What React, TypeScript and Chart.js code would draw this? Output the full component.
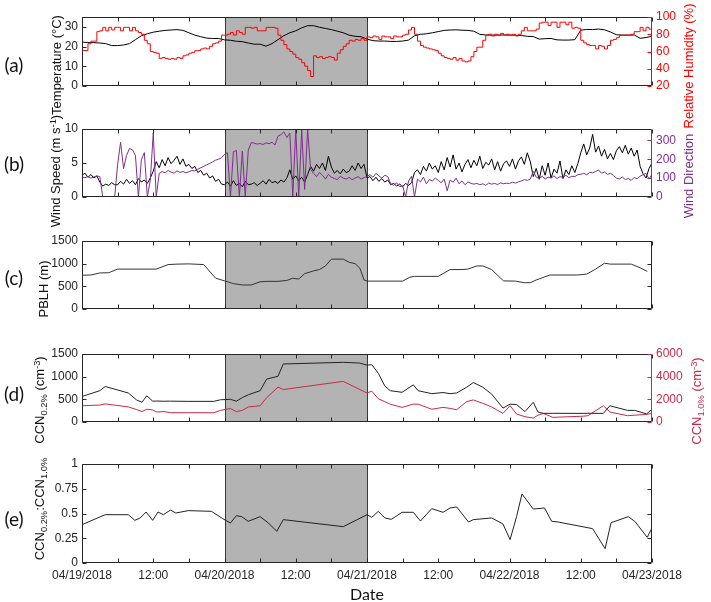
import React, { useEffect, useRef } from 'react';
import { Chart, registerables } from 'chart.js';
Chart.register(...registerables);

// ---------------- data ----------------
const xTickHours = [0, 12, 24, 36, 48, 60, 72, 84, 96];
const xTickLabels = ['04/19/2018', '12:00', '04/20/2018', '12:00', '04/21/2018', '12:00', '04/22/2018', '12:00', '04/23/2018'];
const xMinorTickHours = [0, 6, 12, 18, 24, 30, 36, 42, 48, 54, 60, 66, 72, 78, 84, 90, 96];
const shadeStartHour = 24;
const shadeEndHour = 48;

// hourly (h = 0..96)
const temperature = [
  22.3, 22, 22, 21.8, 21.5, 20.5, 20.5, 20.8, 21.5, 23.5,
  25.5, 26.5, 27.3, 27.8, 28.2, 28.4, 28.6, 28.2, 27, 25.8,
  25, 24.3, 24.1, 24.1, 23.4, 23.2, 22.7, 22.5, 21.8, 21.2,
  21.2, 20.2, 21.5, 23.5, 25.5, 27, 28, 29.5, 30.6, 30.6,
  29.8, 29.2, 28.6, 27.8, 27, 25.8, 25.2, 25, 23.8, 23,
  22.8, 22.8, 22.6, 22.6, 22.8, 23.3, 25.5, 26.2, 26.5, 27,
  27.6, 28.2, 28.4, 28.5, 28.3, 28.2, 27.8, 26.2, 25.9, 25.8,
  25.8, 25.9, 25.8, 25.8, 25.6, 25.2, 25.1, 23.8, 24, 24.1,
  23.4, 23.3, 23.3, 23.5, 28.3, 28.7, 28.6, 28.9, 28.5, 27.4,
  26, 25.8, 25.8, 25.9, 24.2, 24.6, 25.2,
];

// half-hourly (h = 0, 0.5, ..., 96)
const relHumidity = [
  61, 61, 69, 72, 72, 83, 84, 88, 84, 88, 85, 88,
  88, 84, 88, 88, 84, 88, 84, 82, 80, 73, 69, 60,
  59, 58, 52, 53, 52, 51, 52, 51, 53, 52, 55, 56,
  58, 59, 61, 61, 63, 64, 63, 66, 69, 70, 72, 79,
  79, 80, 82, 79, 84, 82, 80, 88, 88, 87, 88, 84,
  84, 84, 88, 88, 88, 87, 79, 73, 68, 63, 60, 57,
  53, 51, 47, 43, 38, 31, 55, 53, 54, 52, 53, 54,
  53, 50, 58, 62, 66, 69, 73, 72, 74, 73, 75, 73,
  77, 76, 78, 77, 74, 78, 77, 77, 75, 78, 77, 77,
  79, 80, 85, 88, 80, 72, 67, 65, 64, 63, 62, 61,
  58, 55, 53, 52, 51, 53, 50, 52, 49, 48, 49, 54,
  60, 65, 65, 73, 79, 80, 78, 80, 79, 81, 79, 80,
  79, 80, 78, 80, 84, 88, 84, 84, 84, 86, 93, 94,
  94, 90, 94, 94, 88, 94, 94, 91, 94, 87, 88, 87,
  73, 70, 68, 67, 67, 63, 67, 66, 63, 67, 73, 74,
  76, 79, 79, 79, 79, 80, 83, 83, 88, 84, 88, 86,
  88,
];
const windSpeed = [
  3.2, 3.5, 2.9, 3.3, 2.8, 3.1, 2.2, 1.6, 1.9, 1.7, 2.1, 1.8,
  1.8, 2.3, 1.9, 2.6, 2.0, 2.4, 1.8, 2.7, 2.2, 2.5, 2.0, 2.8,
  3.8, 5.2, 4.3, 5.5, 4.6, 5.8, 4.9, 5.4, 6.0, 4.8, 5.6, 4.5,
  4.8, 4.2, 4.5, 3.6, 3.9, 3.2, 3.5, 2.8, 3.1, 2.3, 2.6, 1.9,
  1.8, 2.2, 1.6, 2.4, 1.7, 2.0, 1.5, 2.3, 1.8, 1.9, 2.1, 1.7,
  2.0, 2.4, 1.9, 2.6, 2.1, 2.3, 2.0, 2.5, 2.2, 2.8, 4.0, 2.6,
  3.1, 2.4, 2.9, 2.2, 3.3, 4.5, 3.8, 4.8, 4.2, 5.0, 3.9, 6.0,
  4.4, 3.5, 3.9, 3.4, 4.1, 3.6, 3.8, 4.6, 3.9, 5.0, 4.2, 4.8,
  2.8, 3.0, 2.4, 2.9, 2.3, 2.7, 2.2, 2.5, 1.8, 2.0, 1.6, 1.9,
  1.5, 2.0, 1.7, 2.1, 3.6, 4.0, 3.3, 4.5, 3.8, 5.0, 4.1, 4.6,
  3.6, 5.2, 4.0, 5.8, 4.4, 6.2, 4.1, 5.0, 3.7, 4.8, 5.5, 4.3,
  5.4, 4.6, 6.0, 4.2, 5.1, 4.7, 5.6, 4.0, 5.2, 3.8, 4.9, 5.3,
  4.5, 5.6, 4.1, 5.3, 5.9, 4.8, 6.5, 5.2, 3.0, 4.2, 2.6, 4.6,
  3.2, 5.0, 2.8, 4.1, 3.5, 5.3, 2.7, 4.0, 3.3, 4.6, 3.6, 4.9,
  6.5, 7.8, 6.2, 7.2, 9.2, 6.6, 7.5, 6.0, 7.0, 5.6, 6.4, 5.5,
  6.8, 7.4, 6.5, 7.6, 6.3, 7.2, 6.0, 6.9, 4.5, 3.4, 2.8, 4.2,
  5.0,
];
const windDirection = [
  105, 102, 108, 100, 106, 112, 108, 0, 2, 0, 3, 0,
  172, 290, 150, 220, 257, 250, 220, 0, 198, 235, 0, 88,
  338, 0, 125, 135, 128, 140, 132, 126, 138, 130, 135, 128,
  134, 140, 138, 147, 155, 162, 170, 178, 186, 195, 200, 208,
  225, 235, 0, 240, 246, 0, 243, 0, 248, 288, 285, 280,
  283, 278, 287, 282, 290, 275, 322, 330, 345, 315, 338, 0,
  360, 0, 355, 40, 360, 147, 125, 108, 130, 115, 95, 120,
  105, 98, 92, 110, 100, 95, 104, 92, 100, 108, 95, 102,
  110, 118, 105, 125, 112, 100, 115, 108, 70, 62, 75, 55,
  60, 0, 85, 110, 0, 95, 80, 105, 70, 92, 85, 100,
  88, 75, 95, 33, 90, 78, 100, 70, 85, 65, 80, 72,
  68, 72, 65, 70, 62, 74, 68, 72, 66, 75, 70, 73,
  72, 78, 74, 80, 85, 92, 88, 95, 136, 105, 98, 110,
  95, 105, 100, 112, 98, 108, 104, 115, 102, 110, 108, 118,
  120, 125, 118, 130, 128, 135, 143, 126, 132, 120, 125, 115,
  100, 95, 106, 92, 98, 88, 104, 96, 110, 118, 125, 95,
  120,
];

const pblhHours = [0, 1.5, 3, 4.5, 6, 12.5, 14.5, 16, 18, 20.5, 22.5, 24, 25.5, 27, 28.5, 30, 31, 33, 34.5, 35.5, 36.5, 37.5, 39, 40, 41, 42, 44, 45, 46, 46.8, 47.5, 48, 54, 55.2, 56, 60, 62, 64, 65, 66.5, 67.5, 69, 70.5, 71, 73, 74.5, 75.5, 76.5, 78.8, 83.5, 85, 86.5, 88, 89, 92.5, 94, 95.2];
const pblh = [745, 750, 795, 800, 880, 880, 980, 990, 995, 980, 680, 620, 560, 530, 530, 600, 610, 610, 630, 680, 660, 780, 840, 870, 950, 1100, 1100, 1030, 1000, 900, 640, 615, 615, 700, 720, 720, 870, 870, 880, 950, 950, 870, 680, 620, 615, 580, 580, 640, 750, 750, 770, 880, 1010, 990, 990, 910, 830];

const ccnHours = [0, 3, 3.9, 7.8, 9.2, 10.1, 10.9, 11.9, 12.6, 13.8, 14.9, 18, 22.2, 23.3, 25, 26, 27, 28, 30, 31.1, 33, 33.9, 44, 46.8, 48, 48.8, 49.9, 51, 51.9, 53.9, 55.8, 56.6, 58.9, 60.8, 62, 63.1, 64.8, 65.9, 67.5, 69, 70.9, 72.1, 73.2, 74.6, 76, 76.8, 77.7, 79.3, 84.4, 85.2, 87.8, 88.9, 91.9, 93.1, 95.1, 96];
const ccn02 = [563, 691, 783, 640, 486, 435, 578, 460, 462, 458, 460, 455, 455, 490, 500, 460, 538, 600, 691, 947, 1008, 1280, 1316, 1300, 1254, 1265, 1075, 794, 691, 655, 819, 691, 625, 650, 625, 640, 768, 870, 768, 614, 307, 394, 384, 230, 435, 220, 190, 192, 190, 192, 190, 358, 256, 256, 179, 282];
const ccn10 = [1434, 1495, 1597, 1331, 1100, 922, 1126, 1065, 880, 922, 819, 819, 819, 1024, 1188, 922, 1024, 1331, 1434, 2150, 3072, 2867, 3584, 2867, 2560, 2724, 2048, 1800, 1577, 1290, 1577, 1577, 1126, 1290, 1200, 1085, 1800, 1946, 1650, 1330, 758, 1434, 700, 470, 348, 600, 758, 410, 512, 553, 1434, 880, 553, 600, 676, 758];

const ratioHours = [0, 3.9, 7.8, 8.9, 9.8, 10.8, 11.9, 12.8, 13.7, 14.9, 15.8, 17.9, 21.8, 23.7, 25, 26, 26.9, 28, 30, 31.4, 32.8, 33.9, 44, 48, 48.8, 49.9, 51, 52.1, 53.9, 55.8, 57, 58.9, 60.8, 62, 63.1, 65.1, 65.9, 69, 70.9, 72.1, 73.2, 74.1, 76, 77.9, 79.1, 80.2, 86, 88.1, 89.1, 92, 93.1, 95.2, 96];
const ccnRatio = [0.387, 0.488, 0.488, 0.431, 0.455, 0.515, 0.431, 0.515, 0.488, 0.535, 0.505, 0.529, 0.522, 0.448, 0.404, 0.478, 0.468, 0.421, 0.468, 0.404, 0.32, 0.438, 0.367, 0.488, 0.461, 0.522, 0.455, 0.441, 0.512, 0.512, 0.424, 0.549, 0.512, 0.556, 0.566, 0.414, 0.438, 0.455, 0.394, 0.236, 0.471, 0.697, 0.545, 0.556, 0.421, 0.414, 0.347, 0.145, 0.407, 0.468, 0.421, 0.259, 0.354];

const tempTicks = [0, 10, 20, 30];
const rhTicks = [20, 40, 60, 80, 100];
const wsTicks = [0, 5, 10];
const wdTicks = [0, 100, 200, 300];
const pblhTicks = [0, 500, 1000, 1500];
const ccn02Ticks = [0, 500, 1000, 1500];
const ccn10Ticks = [0, 2000, 4000, 6000];
const ratioTicks = [0, 0.25, 0.5, 0.75, 1];
const ratioTickLabels = ['0', '0.25', '0.5', '0.75', '1'];

// ---------------- styles ----------------
const W = 711;
const H = 602;
const PLOT_LEFT = 82;
const PLOT_RIGHT = 652;
const PAD = 12;
const XAXIS_H = 30;
const TICK = 4;
const AXIS = '#262626';
const SHADE = '#b3b3b3';
const RED = '#ff0000';
const PURPLE = '#7e2f8e';
const CRIMSON = '#c8294b';
const FONT = '"Liberation Sans", Arial, Helvetica, sans-serif';
const LABEL_FONT = 'Lato, "Open Sans", sans-serif';

const pts = (xs: number[], ys: number[]) => ys.map((y, i) => ({ x: xs[i], y }));
const grid = (step: number, ys: number[]) => ys.map((y, i) => ({ x: i * step, y }));

const framePlugin = {
  id: 'frame',
  beforeDatasetsDraw(chart: any) {
    const { ctx, chartArea: a, scales } = chart;
    const x0 = Math.round(scales.x.getPixelForValue(shadeStartHour)) + 0.5;
    const x1 = Math.round(scales.x.getPixelForValue(shadeEndHour)) + 0.5;
    ctx.save();
    ctx.fillStyle = SHADE;
    ctx.fillRect(x0, a.top, x1 - x0, a.bottom - a.top);
    ctx.strokeStyle = '#3a3a3a';
    ctx.lineWidth = 1;
    ctx.beginPath();
    ctx.moveTo(x0, a.top); ctx.lineTo(x0, a.bottom);
    ctx.moveTo(x1, a.top); ctx.lineTo(x1, a.bottom);
    ctx.stroke();
    ctx.restore();
  },
  afterDraw(chart: any, _args: any, opts: any) {
    const { ctx, chartArea: a, scales } = chart;
    const L = Math.round(a.left) + 0.5;
    const R = Math.round(a.right) - 0.5;
    const T = Math.round(a.top) + 0.5;
    const B = Math.round(a.bottom) - 0.5;
    ctx.save();
    ctx.lineWidth = 1;
    ctx.strokeStyle = AXIS;
    ctx.beginPath();
    ctx.moveTo(L, T); ctx.lineTo(R, T);
    ctx.moveTo(L, B); ctx.lineTo(R, B);
    ctx.moveTo(L, T); ctx.lineTo(L, B);
    for (const h of xMinorTickHours) {
      const px = Math.round(scales.x.getPixelForValue(h)) + 0.5;
      ctx.moveTo(px, B); ctx.lineTo(px, B - TICK);
      ctx.moveTo(px, T); ctx.lineTo(px, T + TICK);
    }
    for (const t of scales.y.ticks) {
      const py = Math.round(scales.y.getPixelForValue(t.value)) + 0.5;
      ctx.moveTo(L, py); ctx.lineTo(L + TICK, py);
    }
    ctx.stroke();
    ctx.strokeStyle = (opts && opts.rightColor) || AXIS;
    ctx.beginPath();
    ctx.moveTo(R, T); ctx.lineTo(R, B);
    const rs = opts && opts.mirror ? scales.y : scales.y1;
    for (const t of rs.ticks) {
      const py = Math.round(rs.getPixelForValue(t.value)) + 0.5;
      ctx.moveTo(R, py); ctx.lineTo(R - TICK, py);
    }
    ctx.stroke();
    ctx.restore();
  },
};

function yScale(position: string, min: number, max: number, ticks: number[], color: string, width: number, labels?: string[], showLabels = true) {
  return {
    type: 'linear',
    position,
    min,
    max,
    grid: { display: false, drawTicks: false },
    border: { display: false },
    afterBuildTicks: (s: any) => { s.ticks = ticks.map((v) => ({ value: v })); },
    afterFit: (s: any) => { s.width = width; },
    ticks: {
      display: showLabels,
      color,
      font: { family: FONT, size: 12 },
      padding: 4,
      autoSkip: false,
      callback: (v: any, i: number) => (labels ? labels[i] : String(v)),
    },
  };
}

type Spec = {
  top: number;
  bottom: number;
  showX: boolean;
  datasets: any[];
  left: { min: number; max: number; ticks: number[]; labels?: string[] };
  right?: { min: number; max: number; ticks: number[]; color: string };
};

function buildConfig(spec: Spec): any {
  const scales: any = {
    x: {
      type: 'linear',
      min: 0,
      max: 96,
      display: spec.showX,
      grid: { display: false, drawTicks: false },
      border: { display: false },
      afterBuildTicks: (s: any) => { s.ticks = xTickHours.map((v) => ({ value: v })); },
      afterFit: (s: any) => { s.height = XAXIS_H; },
      ticks: {
        autoSkip: false,
        maxRotation: 0,
        minRotation: 0,
        color: AXIS,
        padding: 5,
        font: { family: FONT, size: 12 },
        callback: (_v: any, i: number) => xTickLabels[i],
      },
    },
    y: yScale('left', spec.left.min, spec.left.max, spec.left.ticks, AXIS, PLOT_LEFT, spec.left.labels),
  };
  if (spec.right) {
    scales.y1 = yScale('right', spec.right.min, spec.right.max, spec.right.ticks, spec.right.color, W - PLOT_RIGHT);
  } else {
    scales.y1 = yScale('right', spec.left.min, spec.left.max, spec.left.ticks, AXIS, W - PLOT_RIGHT, undefined, false);
  }
  return {
    type: 'line',
    data: { datasets: spec.datasets },
    plugins: [framePlugin],
    options: {
      responsive: false,
      animation: false,
      devicePixelRatio: 1,
      layout: {
        padding: { top: PAD, bottom: spec.showX ? 0 : PAD, left: 0, right: 0 },
      },
      elements: { point: { radius: 0, hoverRadius: 0 }, line: { tension: 0, borderWidth: 1 } },
      plugins: {
        legend: { display: false },
        tooltip: { enabled: false },
        frame: { rightColor: spec.right ? spec.right.color : AXIS, mirror: !spec.right },
      },
      scales,
    },
  };
}

function line(data: any[], color: string, axis: string, order: number, extra: any = {}) {
  return { data, borderColor: color, backgroundColor: color, borderWidth: 1, yAxisID: axis, order, fill: false, pointRadius: 0, ...extra };
}

const specs: Spec[] = [
  {
    top: 17, bottom: 116, showX: false,
    left: { min: 0, max: 35, ticks: tempTicks },
    right: { min: 20, max: 100, ticks: rhTicks, color: RED },
    datasets: [
      line(grid(0.5, relHumidity), RED, 'y1', 0, { stepped: true }),
      line(grid(1, temperature), '#000000', 'y', 1),
    ],
  },
  {
    top: 129, bottom: 227, showX: false,
    left: { min: 0, max: 10, ticks: wsTicks },
    right: { min: 0, max: 360, ticks: wdTicks, color: PURPLE },
    datasets: [
      line(grid(0.5, windDirection), PURPLE, 'y1', 0),
      line(grid(0.5, windSpeed), '#000000', 'y', 1),
    ],
  },
  {
    top: 241, bottom: 339, showX: false,
    left: { min: 0, max: 1500, ticks: pblhTicks },
    datasets: [line(pts(pblhHours, pblh), '#333333', 'y', 0)],
  },
  {
    top: 354, bottom: 452, showX: false,
    left: { min: 0, max: 1500, ticks: ccn02Ticks },
    right: { min: 0, max: 6000, ticks: ccn10Ticks, color: CRIMSON },
    datasets: [
      line(pts(ccnHours, ccn02), '#222222', 'y', 0),
      line(pts(ccnHours, ccn10), CRIMSON, 'y1', 1),
    ],
  },
  {
    top: 464, bottom: 563, showX: true,
    left: { min: 0, max: 1, ticks: ratioTicks, labels: ratioTickLabels },
    datasets: [line(pts(ratioHours, ccnRatio), '#222222', 'y', 0)],
  },
];

function Panel({ spec }: { spec: Spec }) {
  const ref = useRef<HTMLCanvasElement>(null);
  const h = PAD + (spec.bottom - spec.top) + (spec.showX ? XAXIS_H : PAD);
  useEffect(() => {
    const chart = new Chart(ref.current as HTMLCanvasElement, buildConfig(spec));
    return () => chart.destroy();
  }, [spec]);
  return (
    <canvas
      ref={ref}
      width={W}
      height={h}
      style={{ position: 'absolute', left: 0, top: spec.top - PAD, width: W, height: h }}
    />
  );
}

const sub: React.CSSProperties = { fontSize: '0.72em', position: 'relative', top: '0.32em' };
const sup: React.CSSProperties = { fontSize: '0.72em', position: 'relative', top: '-0.45em' };

function VTitle({ cx, cy, color, children }: { cx: number; cy: number; color: string; children: React.ReactNode }) {
  return (
    <div
      style={{
        position: 'absolute',
        left: cx,
        top: cy,
        transform: 'translate(-50%, -50%) rotate(-90deg)',
        whiteSpace: 'nowrap',
        font: `13px ${FONT}`,
        lineHeight: 1,
        color,
      }}
    >
      {children}
    </div>
  );
}

function PanelLabel({ cx, cy, text }: { cx: number; cy: number; text: string }) {
  return (
    <div
      style={{
        position: 'absolute',
        left: cx,
        top: cy,
        transform: 'translate(-50%, -50%)',
        whiteSpace: 'nowrap',
        font: `19px ${LABEL_FONT}`,
        lineHeight: 1,
        color: '#111',
      }}
    >
      {text}
    </div>
  );
}

export default function App() {
  useEffect(() => {
    document.body.style.margin = '0';
    document.body.style.background = '#ffffff';
  }, []);
  return (
    <div style={{ position: 'relative', width: W, height: H, overflow: 'hidden', background: '#fff' }}>
      {specs.map((s, i) => (
        <Panel key={i} spec={s} />
      ))}
      <PanelLabel cx={14} cy={64} text="(a)" />
      <PanelLabel cx={14} cy={163} text="(b)" />
      <PanelLabel cx={14} cy={277} text="(c)" />
      <PanelLabel cx={14} cy={393} text="(d)" />
      <PanelLabel cx={14} cy={518} text="(e)" />

      <VTitle cx={56} cy={65} color="#111">Temperature (°C)</VTitle>
      <VTitle cx={56} cy={171} color="#111">
        Wind Speed (m s<span style={sup}>-1</span>)
      </VTitle>
      <VTitle cx={43} cy={289} color="#111">PBLH (m)</VTitle>
      <VTitle cx={40} cy={400} color="#111">
        CCN<span style={sub}>0.2%</span> (cm<span style={sup}>-3</span>)
      </VTitle>
      <VTitle cx={40} cy={509} color="#111">
        CCN<span style={sub}>0.2%</span>:CCN<span style={sub}>1.0%</span>
      </VTitle>

      <VTitle cx={688} cy={66} color={RED}>Relative Humidity (%)</VTitle>
      <VTitle cx={688} cy={176} color={PURPLE}>Wind Direction</VTitle>
      <VTitle cx={697} cy={401} color={CRIMSON}>
        CCN<span style={sub}>1.0%</span> (cm<span style={sup}>-3</span>)
      </VTitle>

      <div
        style={{
          position: 'absolute',
          left: 367,
          top: 594,
          transform: 'translate(-50%, -50%)',
          font: `16px ${LABEL_FONT}`,
          lineHeight: 1,
          color: '#111',
        }}
      >
        Date
      </div>
    </div>
  );
}
